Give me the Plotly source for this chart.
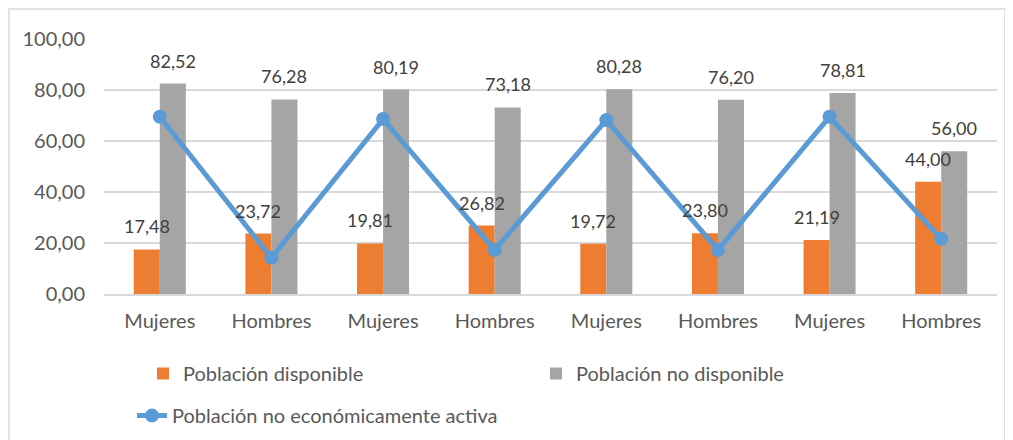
import plotly.graph_objects as go

categories = ["Mujeres", "Hombres", "Mujeres", "Hombres", "Mujeres", "Hombres", "Mujeres", "Hombres"]
disponible = [17.48, 23.72, 19.81, 26.82, 19.72, 23.80, 21.19, 44.00]
no_disponible = [82.52, 76.28, 80.19, 73.18, 80.28, 76.20, 78.81, 56.00]
no_activa = [69.5, 14.2, 68.6, 17.3, 68.2, 17.3, 69.5, 21.6]
y_ticks = [0, 20, 40, 60, 80, 100]

ORANGE = "#ED7D31"
GRAY = "#A5A5A5"
BLUE = "#5B9BD5"
FONT = "Lato"

xs = list(range(len(categories)))
bargap = 0.534
bw = (1 - bargap) / 2

fig = go.Figure()
fig.add_trace(go.Bar(x=xs, y=disponible, name="Población disponible",
                     marker=dict(color=ORANGE, line=dict(width=0)), legend="legend"))
fig.add_trace(go.Bar(x=xs, y=no_disponible, name="Población no disponible",
                     marker=dict(color=GRAY, line=dict(width=0)), legend="legend"))
fig.add_trace(go.Scatter(x=xs, y=no_activa, name="Población no económicamente activa",
                         mode="lines+markers", line=dict(color=BLUE, width=5),
                         marker=dict(color=BLUE, size=14), legend="legend2"))

def fmt(v):
    return f"{v:.2f}".replace(".", ",")

for i, (a, b) in enumerate(zip(disponible, no_disponible)):
    for xv, v in ((i - bw / 2, a), (i + bw / 2, b)):
        fig.add_annotation(x=xv, y=v, text=fmt(v), showarrow=False, xref="x", yref="y",
                           yanchor="middle", yshift=23,
                           font=dict(family=FONT, size=18, color="#404040"))

# page body adds an 8px offset; figure sized to fit the visible window
OFF = 8
W, H = 1013 - OFF, 440 - OFF
L, T = 104 - OFF, 39 - OFF
pw, ph = 893, 255
R, B = W - L - pw, H - T - ph

def px_x(p):
    return (p - OFF - L) / pw

def px_y(p):
    return (T + ph - (p - OFF)) / ph

fig.add_shape(type="rect", xref="paper", yref="paper",
              x0=px_x(9), x1=px_x(1005), y0=px_y(452), y1=px_y(9),
              line=dict(color="#D9D9D9", width=1.5), fillcolor="rgba(0,0,0,0)", layer="below")

fig.update_layout(
    width=W, height=H,
    margin=dict(l=L, r=R, t=T, b=B, autoexpand=False),
    paper_bgcolor="white", plot_bgcolor="white",
    barmode="group", bargap=bargap, bargroupgap=0,
    separators=",.",
    font=dict(family=FONT, size=20, color="#595959"),
    legend=dict(orientation="h", x=px_x(143), y=px_y(354), xanchor="left", yanchor="top",
                entrywidth=348, entrywidthmode="pixels",
                font=dict(family=FONT, size=20, color="#595959"), bgcolor="rgba(0,0,0,0)"),
    legend2=dict(orientation="h", x=px_x(132), y=px_y(396), xanchor="left", yanchor="top",
                 font=dict(family=FONT, size=20, color="#595959"), bgcolor="rgba(0,0,0,0)"),
    showlegend=True,
)
fig.update_xaxes(tickmode="array", tickvals=xs, ticktext=categories, range=[-0.5, len(xs) - 0.5],
                 showgrid=False, showline=True, linecolor="#D9D9D9", linewidth=1.5,
                 ticks="", tickfont=dict(family=FONT, size=20, color="#595959"), ticklabelstandoff=8)
fig.update_yaxes(range=[0, 100], tickvals=y_ticks, tickformat=".2f", showgrid=True,
                 gridcolor="#D9D9D9", gridwidth=1.5, zeroline=False, showline=False,
                 ticks="", tickfont=dict(family=FONT, size=20, color="#595959"), ticklabelstandoff=18)

fig.write_html("out.html")
